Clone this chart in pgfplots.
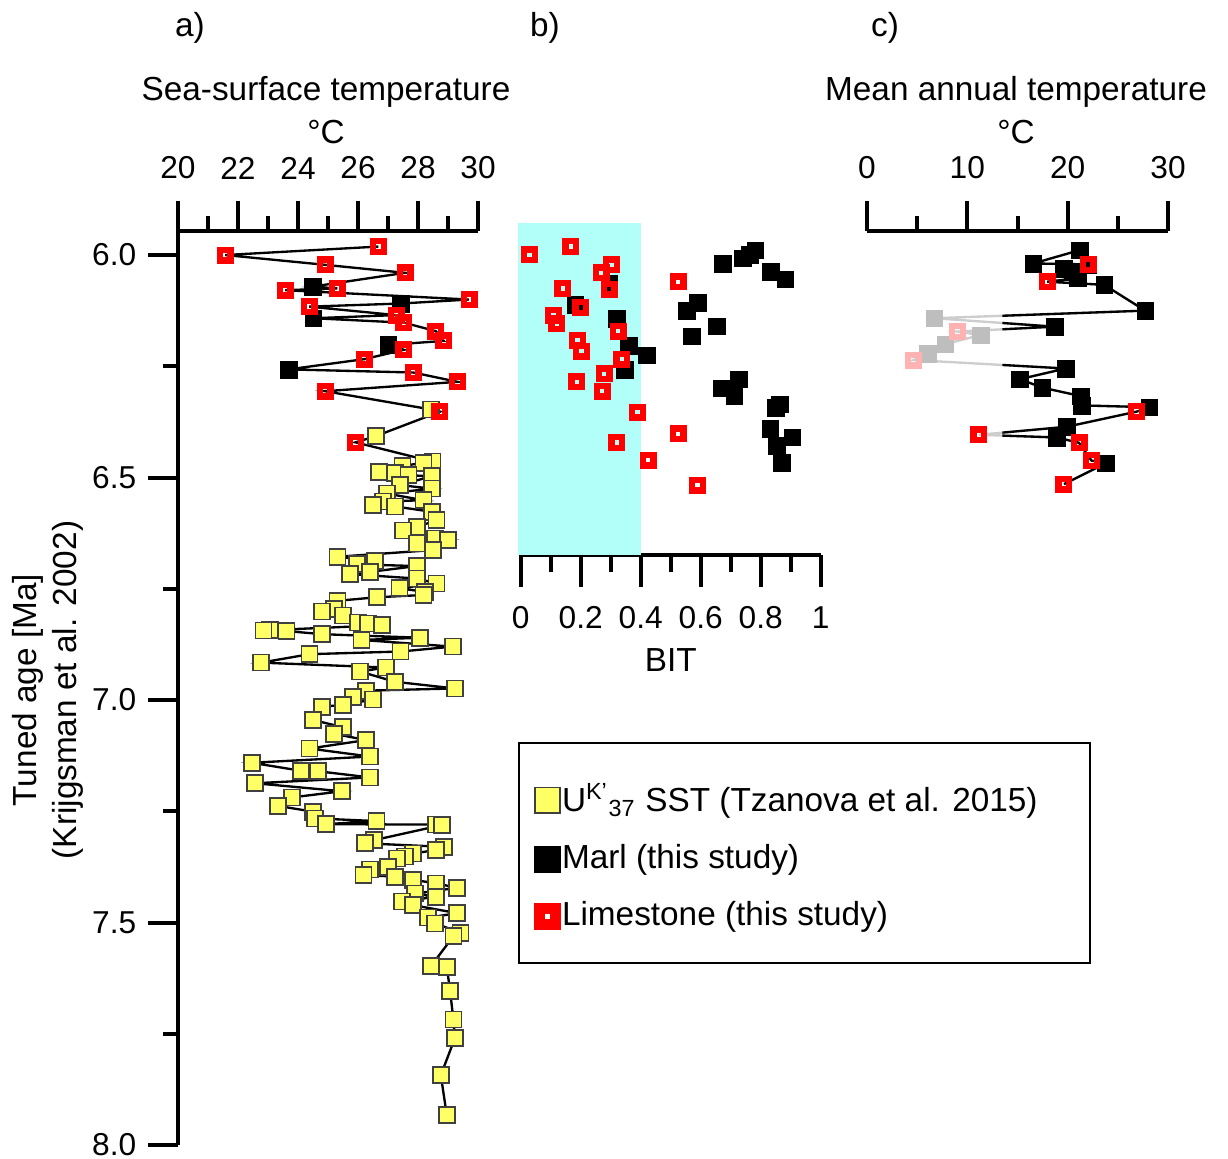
\documentclass[border=0pt]{standalone}
\usepackage{fontspec}
\setmainfont{Liberation Sans}
\usepackage{pgfplots}
\pgfplotsset{compat=1.18}
\usepackage{pgfplotstable}

\definecolor{yel}{RGB}{255,255,102}
\definecolor{cyanbg}{RGB}{178,255,250}
\definecolor{lgray}{RGB}{190,190,190}
\definecolor{lpink}{RGB}{255,178,178}
\definecolor{lline}{RGB}{205,205,205}

% ---------- Panel a: all points for the connecting line (T, age) ----------
\pgfplotstableread{
x y
26.68 5.981
21.57 6.000
24.90 6.022
27.57 6.040
24.48 6.071
25.31 6.075
23.57 6.079
29.70 6.100
27.42 6.109
24.37 6.116
27.27 6.135
24.51 6.142
27.53 6.152
28.59 6.171
28.86 6.193
27.01 6.202
27.53 6.213
26.21 6.234
23.68 6.257
27.84 6.264
29.32 6.285
24.90 6.306
28.43 6.347
28.73 6.352
26.59 6.407
25.92 6.421
28.48 6.464
28.18 6.467
27.48 6.474
26.71 6.488
27.23 6.490
27.68 6.495
28.46 6.497
27.40 6.517
28.46 6.525
26.96 6.536
28.18 6.551
26.84 6.554
26.49 6.562
27.23 6.565
28.46 6.577
28.62 6.596
27.96 6.611
27.51 6.619
28.57 6.637
29.01 6.640
27.96 6.648
28.51 6.663
25.32 6.678
26.57 6.688
25.96 6.695
27.96 6.699
26.40 6.712
25.73 6.717
27.96 6.727
28.62 6.738
27.38 6.749
28.24 6.757
28.18 6.764
26.64 6.769
25.32 6.777
25.21 6.795
24.79 6.801
25.51 6.810
26.01 6.826
26.34 6.828
26.79 6.832
23.07 6.843
22.85 6.844
23.62 6.845
24.79 6.852
28.07 6.860
26.12 6.865
29.16 6.880
27.42 6.891
24.38 6.897
22.77 6.916
26.93 6.927
26.07 6.936
27.23 6.959
29.23 6.974
26.26 6.979
25.84 6.993
26.49 6.999
25.51 7.011
24.79 7.015
24.51 7.045
25.49 7.061
25.21 7.076
26.27 7.090
24.38 7.109
26.40 7.127
22.46 7.141
24.10 7.159
24.66 7.160
26.40 7.174
22.57 7.187
25.46 7.205
23.79 7.219
23.34 7.238
24.51 7.251
24.57 7.266
26.62 7.272
24.93 7.279
28.60 7.280
28.80 7.281
26.53 7.315
26.23 7.322
28.87 7.330
28.60 7.337
27.84 7.345
27.57 7.352
27.29 7.356
27.01 7.375
26.40 7.381
26.18 7.393
27.23 7.397
27.84 7.404
28.60 7.412
29.31 7.422
27.90 7.435
28.60 7.442
27.46 7.453
27.84 7.461
29.31 7.479
28.34 7.489
28.57 7.502
29.42 7.523
29.18 7.531
28.43 7.598
28.96 7.600
29.07 7.654
29.18 7.718
29.23 7.760
28.76 7.843
28.96 7.933
}\aline

% ---------- Panel a: UK'37 SST (yellow) ----------
\pgfplotstableread{
x y
28.43 6.347
26.59 6.407
28.48 6.464
28.18 6.467
27.48 6.474
26.71 6.488
27.23 6.490
27.68 6.495
28.46 6.497
27.40 6.517
28.46 6.525
26.96 6.536
28.18 6.551
26.84 6.554
26.49 6.562
27.23 6.565
28.46 6.577
28.62 6.596
27.96 6.611
27.51 6.619
28.57 6.637
29.01 6.640
27.96 6.648
28.51 6.663
25.32 6.678
26.57 6.688
25.96 6.695
27.96 6.699
26.40 6.712
25.73 6.717
27.96 6.727
28.62 6.738
27.38 6.749
28.24 6.757
28.18 6.764
26.64 6.769
25.32 6.777
25.21 6.795
24.79 6.801
25.51 6.810
26.01 6.826
26.34 6.828
26.79 6.832
23.07 6.843
22.85 6.844
23.62 6.845
24.79 6.852
28.07 6.860
26.12 6.865
29.16 6.880
27.42 6.891
24.38 6.897
22.77 6.916
26.93 6.927
26.07 6.936
27.23 6.959
29.23 6.974
26.26 6.979
25.84 6.993
26.49 6.999
25.51 7.011
24.79 7.015
24.51 7.045
25.49 7.061
25.21 7.076
26.27 7.090
24.38 7.109
26.40 7.127
22.46 7.141
24.10 7.159
24.66 7.160
26.40 7.174
22.57 7.187
25.46 7.205
23.79 7.219
23.34 7.238
24.51 7.251
24.57 7.266
26.62 7.272
24.93 7.279
28.60 7.280
28.80 7.281
26.53 7.315
26.23 7.322
28.87 7.330
28.60 7.337
27.84 7.345
27.57 7.352
27.29 7.356
27.01 7.375
26.40 7.381
26.18 7.393
27.23 7.397
27.84 7.404
28.60 7.412
29.31 7.422
27.90 7.435
28.60 7.442
27.46 7.453
27.84 7.461
29.31 7.479
28.34 7.489
28.57 7.502
29.42 7.523
29.18 7.531
28.43 7.598
28.96 7.600
29.07 7.654
29.18 7.718
29.23 7.760
28.76 7.843
28.96 7.933
}\ayel

\pgfplotstableread{
x y
24.48 6.071
27.42 6.109
24.51 6.142
27.01 6.202
23.68 6.257
}\ablack

\pgfplotstableread{
x y
26.68 5.981
21.57 6.000
24.90 6.022
27.57 6.040
25.31 6.075
23.57 6.079
29.70 6.100
24.37 6.116
27.27 6.135
27.53 6.152
28.59 6.171
28.86 6.193
27.53 6.213
26.21 6.234
27.84 6.264
29.32 6.285
24.90 6.306
28.73 6.352
25.92 6.421
}\ared

% ---------- Panel b: BIT ----------
\pgfplotstableread{
x y
0.781 5.989
0.764 6.000
0.739 6.007
0.673 6.019
0.833 6.037
0.881 6.054
0.295 6.065
0.589 6.107
0.553 6.125
0.181 6.112
0.653 6.160
0.570 6.182
0.320 6.143
0.359 6.204
0.420 6.225
0.346 6.257
0.726 6.279
0.669 6.299
0.711 6.317
0.864 6.335
0.850 6.343
0.831 6.390
0.905 6.409
0.853 6.429
0.870 6.467
}\bblack

\pgfplotstableread{
x y
0.029 6.000
0.167 5.981
0.303 6.022
0.268 6.040
0.295 6.077
0.140 6.075
0.525 6.060
0.200 6.118
0.109 6.135
0.120 6.155
0.325 6.171
0.189 6.191
0.203 6.216
0.337 6.234
0.278 6.267
0.187 6.285
0.272 6.306
0.389 6.353
0.525 6.402
0.320 6.421
0.425 6.461
0.589 6.517
}\bred

% ---------- Panel c: MAT ----------
\pgfplotstableread{
x y
21.20 5.989
16.57 6.019
22.03 6.021
19.63 6.030
20.47 6.037
20.97 6.052
17.97 6.060
23.63 6.067
27.73 6.125
6.70 6.142
18.70 6.161
9.03 6.172
11.30 6.180
7.80 6.200
6.03 6.221
4.63 6.236
19.80 6.255
15.23 6.279
17.47 6.298
21.30 6.317
21.40 6.338
28.13 6.342
26.87 6.352
19.90 6.386
11.13 6.404
18.90 6.410
21.13 6.422
22.37 6.462
23.80 6.468
19.63 6.515
}\cline

\pgfplotstableread{
x y
21.20 5.989
16.57 6.019
22.03 6.022
19.63 6.030
20.47 6.037
20.97 6.052
23.63 6.067
27.73 6.125
18.70 6.161
19.80 6.255
15.23 6.279
17.47 6.298
21.30 6.317
21.40 6.338
28.13 6.342
19.90 6.386
18.90 6.410
23.80 6.468
}\cblack

\pgfplotstableread{
x y
22.03 6.021
17.97 6.060
26.87 6.352
11.13 6.404
21.13 6.422
22.37 6.462
19.63 6.515
}\cred

\pgfplotstableread{
x y
6.70 6.142
11.30 6.180
7.80 6.200
6.03 6.221
}\cgrey

\pgfplotstableread{
x y
9.03 6.172
4.63 6.236
}\cpink

\pgfplotsset{
  every axis/.append style={
    scale only axis,
    major tick length=9pt,
    minor tick length=4.5pt,
    tick style={black, line width=1.2pt},
    tick label style={font=\fontsize{9.5}{11}\selectfont},
    /pgf/number format/assume math mode=true,
  },
  nolinearrows/.style={axis line style={-, line width=1.2pt},
    every outer x axis line/.append style={-}, every outer y axis line/.append style={-},
    every inner x axis line/.append style={-}, every inner y axis line/.append style={-},
    tick align=outside, xtick align=outside, ytick align=outside},
  yelmark/.style={only marks, mark=square*, mark size=2.4pt, mark options={fill=yel, draw=black!75, line width=0.5pt}},
  blkmark/.style={only marks, mark=square*, mark size=2.5pt, mark options={fill=black, draw=black, line width=0.1pt}},
  redmark/.style={only marks, mark=square, mark size=1.6pt, mark options={draw=red, line width=1.9pt}},
  greymark/.style={only marks, mark=square*, mark size=2.5pt, mark options={fill=lgray, draw=lgray, line width=0.1pt}},
  pinkmark/.style={only marks, mark=square, mark size=1.6pt, mark options={draw=lpink, line width=1.9pt}},
}

\begin{document}
\begin{tikzpicture}
\useasboundingbox (0,0) rectangle (368.4pt,-347.4pt);

% ---------------- Panel a (age axis plotted downwards: y = -age) ----------------
\begin{axis}[
  at={(53.4pt,-69.3pt)}, anchor=north west,
  width=90pt, height=274.2pt,
  xmin=20, xmax=30, ymin=-8.0, ymax=-5.946,
  axis x line=top, axis y line=left, nolinearrows,
  xtick={20,22,...,30}, minor x tick num=1,
  xticklabel style={yshift=3pt},
  ytick={-8,-7.5,...,-6}, minor y tick num=1,
  yticklabel={\pgfmathparse{-\tick}\pgfmathprintnumber[fixed,fixed zerofill,precision=1]{\pgfmathresult}},
  clip=false,
]
\addplot[black, line width=0.7pt, no marks] table[x=x,y expr=-\thisrow{y}] {\aline};
\addplot[yelmark] table[x=x,y expr=-\thisrow{y}] {\ayel};
\addplot[blkmark] table[x=x,y expr=-\thisrow{y}] {\ablack};
\addplot[redmark] table[x=x,y expr=-\thisrow{y}] {\ared};
\end{axis}

% ---------------- Panel b ----------------
\begin{axis}[
  at={(156.21pt,-66.75pt)}, anchor=north west,
  width=90pt, height=99.75pt,
  xmin=0, xmax=1, ymin=-6.674, ymax=-5.927,
  axis x line=bottom, axis y line=none, nolinearrows,
  xtick={0,0.2,...,1}, minor x tick num=1,
  xticklabel style={yshift=-2.5pt},
  major tick length=9.5pt, minor tick length=5pt,
  xlabel={BIT},
  xlabel style={font=\fontsize{10}{12}\selectfont, yshift=1pt},
  clip=false,
  legend cell align=left,
  legend style={at={(0.01,-0.645)}, anchor=north west, draw=none, fill=none,
    font=\fontsize{10}{12}\selectfont, row sep=4.4pt,
    nodes={inner xsep=0.5pt}},
  legend image code/.code={\draw[#1] plot coordinates {(0cm,0cm)};},
]
\fill[cyanbg] (axis cs:-0.008,-6.674) rectangle (axis cs:0.4,-5.927);
\addplot[blkmark, forget plot] table[x=x,y expr=-\thisrow{y}] {\bblack};
\addplot[redmark, forget plot] table[x=x,y expr=-\thisrow{y}] {\bred};
\addlegendimage{only marks, mark=square*, mark size=3.8pt, mark options={fill=yel, draw=black!75, line width=0.5pt}}
\addlegendentry{U\textsuperscript{K'}\textsubscript{37} SST (Tzanova et al. 2015)}
\addlegendimage{only marks, mark=square*, mark size=3.9pt, mark options={fill=black, draw=black, line width=0.1pt}}
\addlegendentry{Marl (this study)}
\addlegendimage{only marks, mark=square, mark size=2.4pt, mark options={draw=red, line width=3.3pt}}
\addlegendentry{Limestone (this study)}
\end{axis}

% ---------------- Panel c: grey line layer ----------------
\begin{axis}[
  at={(260.1pt,-69.3pt)}, anchor=north west,
  width=90.3pt, height=87.3pt,
  xmin=0, xmax=30, ymin=-6.6, ymax=-5.946,
  hide axis,
]
\addplot[lline, line width=0.7pt, no marks] table[x=x,y expr=-\thisrow{y}] {\cline};
\end{axis}
% black part of the line (x > 13.5)
\begin{axis}[
  at={(300.735pt,-69.3pt)}, anchor=north west,
  width=49.665pt, height=87.3pt,
  xmin=13.5, xmax=30, ymin=-6.6, ymax=-5.946,
  hide axis, clip=true,
]
\addplot[black, line width=0.7pt, no marks] table[x=x,y expr=-\thisrow{y}] {\cline};
\end{axis}
% markers and axis
\begin{axis}[
  at={(260.1pt,-69.3pt)}, anchor=north west,
  width=90.3pt, height=87.3pt,
  xmin=0, xmax=30, ymin=-6.6, ymax=-5.946,
  axis x line=top, axis y line=none, nolinearrows,
  xtick={0,10,20,30}, minor x tick num=1,
  xticklabel style={yshift=3pt},
  clip=false,
]
\addplot[greymark] table[x=x,y expr=-\thisrow{y}] {\cgrey};
\addplot[pinkmark] table[x=x,y expr=-\thisrow{y}] {\cpink};
\addplot[blkmark] table[x=x,y expr=-\thisrow{y}] {\cblack};
\addplot[redmark] table[x=x,y expr=-\thisrow{y}] {\cred};
\end{axis}

% ---------------- Texts and legend frame ----------------
\begin{scope}[x=0.3pt, y=-0.3pt, font=\fontsize{10}{12}\selectfont]
\node at (190,28) {a)};
\node at (545,28) {b)};
\node at (885,28) {c)};
\node at (326,92) {Sea-surface temperature};
\node at (326,132) {°C};
\node at (1016,92) {Mean annual temperature};
\node at (1016,132) {°C};
\node[rotate=90, align=center] at (48,690) {Tuned age [Ma]\\(Krijgsman et al. 2002)};
\draw[line width=0.6pt] (519,743) rectangle (1090,963);
\end{scope}
\end{tikzpicture}
\end{document}
